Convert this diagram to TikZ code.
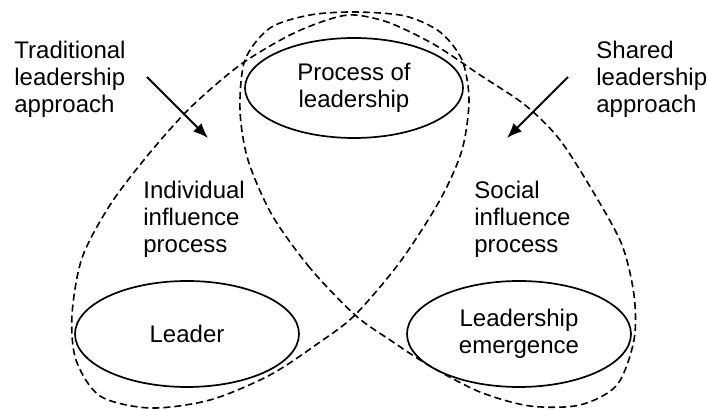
\documentclass[tikz,border=0pt]{standalone}
\usepackage{fontspec}
\setmainfont{Liberation Sans}
\usetikzlibrary{shapes.geometric,arrows.meta}

\begin{document}
\begin{tikzpicture}[x=0.5pt,y=-0.5pt]
	\tikzstyle{txt} = [align=left, inner sep=0pt, anchor=west, font=\fontsize{12}{13.5}\selectfont]
	\tikzstyle{oval} = [draw, ellipse, line width=0.85pt, inner sep=0pt, align=center, font=\fontsize{12}{13.5}\selectfont]
	\tikzstyle{ribbon} = [line width=0.8pt, dash pattern=on 3.5pt off 2pt]
	\tikzset{edge/.style = {line width=1pt, -{Latex[length=7.5pt,width=6pt]}}}

	\useasboundingbox (0,0) rectangle (708,410);

	% the three ovals
	\node[oval, minimum width=109pt, minimum height=50pt](process) at (354,88) {Process of\\leadership};
	\node[oval, minimum width=112pt, minimum height=53pt](leader) at (187,334) {Leader};
	\node[oval, minimum width=112pt, minimum height=53pt](emergence) at (519,334) {Leadership\\emergence};

	% free texts
	\node[txt](traditional) at (14,79) {Traditional\\leadership\\approach};
	\node[txt](shared) at (596,79) {Shared\\leadership\\approach};
	\node[txt](individual) at (143,219) {Individual\\influence\\process};
	\node[txt](social) at (474,219) {Social\\influence\\process};

	% arrows
	\coordinate (tradtail) at (147,77);
	\coordinate (tradtip) at (208,138);
	\coordinate (sharedtail) at (568,77);
	\coordinate (sharedtip) at (507,138);
	\draw[edge](tradtail) to (tradtip);
	\draw[edge](sharedtail) to (sharedtip);

	% dashed ribbon
	\draw[ribbon] plot[smooth cycle, tension=0.5] coordinates {
		(355,315) (310,268) (272,215) (248,160) (240,110) (245,60) (270,28)
		(310,15) (355,12) (405,16) (440,32) (462,60) (469,100) (462,150)
		(440,200) (400,262)
		(355,315) (320,342) (270,375) (210,400) (150,408) (100,396) (76,360)
		(72,315) (82,258) (110,205) (148,155) (190,108) (240,65) (290,35)
		(330,19) (355,15) (390,23) (435,45) (480,75) (525,105) (560,140)
		(595,195) (622,245) (634,295) (634,340) (617,385) (580,405) (530,406)
		(480,392) (430,366) (390,340)};
\end{tikzpicture}
\end{document}
